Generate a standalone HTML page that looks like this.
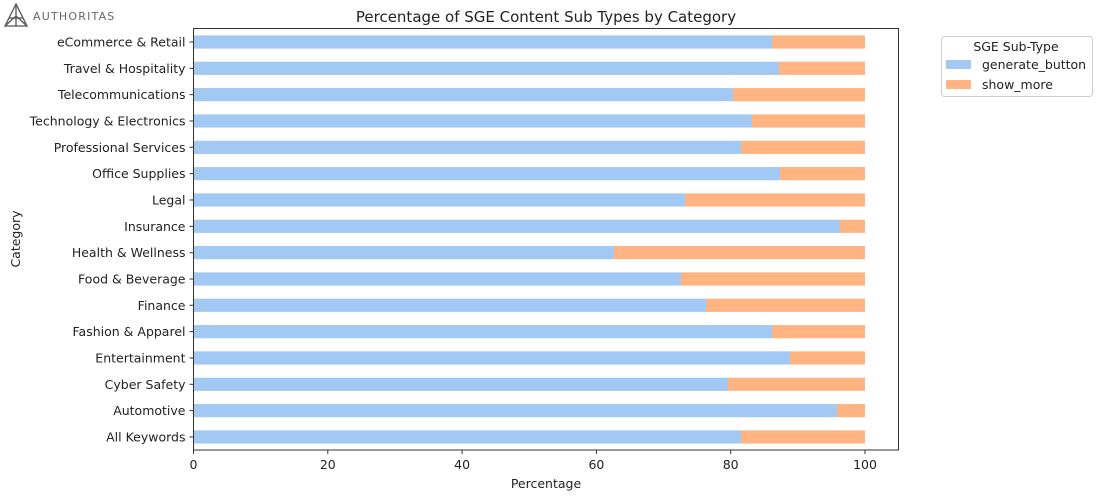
<!DOCTYPE html>
<html><head><meta charset="utf-8"><style>
html,body{margin:0;padding:0;background:#fff;}
svg text{font-family:"DejaVu Sans","Liberation Sans",sans-serif;fill:#222;}
</style></head><body>
<svg width="1100" height="498" viewBox="0 0 1100 498" xmlns="http://www.w3.org/2000/svg">
<g stroke="#555" stroke-width="1.3" fill="none">
<path d="M16 4 L5 26 L27 26 Z"/><path d="M16 4 L16 26 M5 26 L16 16 L27 26 M9 18 L23 18"/>
</g>
<text x="33" y="20" font-size="11" letter-spacing="1.2" style="fill:#666">AUTHORITAS</text>
<text x="546" y="22" font-size="15" text-anchor="middle">Percentage of SGE Content Sub Types by Category</text>
<g id="bars"></g>
<rect x="193.5" y="28.5" width="705" height="421.5" fill="none" stroke="#333" stroke-width="1"/>
<g font-size="12.5">
<text x="546" y="488" text-anchor="middle">Percentage</text>
<text transform="translate(20 239) rotate(-90)" text-anchor="middle">Category</text>
</g>
<g id="xt" font-size="12.5"></g>
<g id="yt" font-size="12.5"></g>
<rect x="941.5" y="36.5" width="151" height="60" rx="3" fill="#fff" stroke="#ccc"/>
<text x="1016" y="51" font-size="12.5" text-anchor="middle">SGE Sub-Type</text>
<rect x="946" y="60" width="25" height="9" fill="#a1c9f4"/>
<text x="982" y="69" font-size="12.5">generate_button</text>
<rect x="946" y="80" width="25" height="9" fill="#ffb482"/>
<text x="982" y="89" font-size="12.5">show_more</text>
<script>
var ns="http://www.w3.org/2000/svg";
var cats=["eCommerce & Retail","Travel & Hospitality","Telecommunications","Technology & Electronics","Professional Services","Office Supplies","Legal","Insurance","Health & Wellness","Food & Beverage","Finance","Fashion & Apparel","Entertainment","Cyber Safety","Automotive","All Keywords"];
var sp=[772,779,733,752,741,780,685,840,614,681,706,772,790,728,837,741];
var x0=193.5,x1=865,bars=document.getElementById("bars"),yt=document.getElementById("yt"),xt=document.getElementById("xt");
function el(t,a,p,txt){var e=document.createElementNS(ns,t);for(var k in a)e.setAttribute(k,a[k]);if(txt)e.textContent=txt;p.appendChild(e);}
for(var i=0;i<16;i++){var cy=42+i*26.33;
el("rect",{x:x0,y:cy-6.6,width:sp[i]-x0,height:13.2,fill:"#a1c9f4"},bars);
el("rect",{x:sp[i],y:cy-6.6,width:x1-sp[i],height:13.2,fill:"#ffb482"},bars);
el("line",{x1:x0-4,x2:x0,y1:cy,y2:cy,stroke:"#333"},yt);
el("text",{x:x0-8,y:cy+4.5,"text-anchor":"end"},yt,cats[i]);}
for(var v=0;v<=100;v+=20){var x=x0+v*6.715;
el("line",{x1:x,x2:x,y1:450,y2:454,stroke:"#333"},xt);
el("text",{x:x,y:469,"text-anchor":"middle"},xt,String(v));}
</script>
</svg>
</body></html>
